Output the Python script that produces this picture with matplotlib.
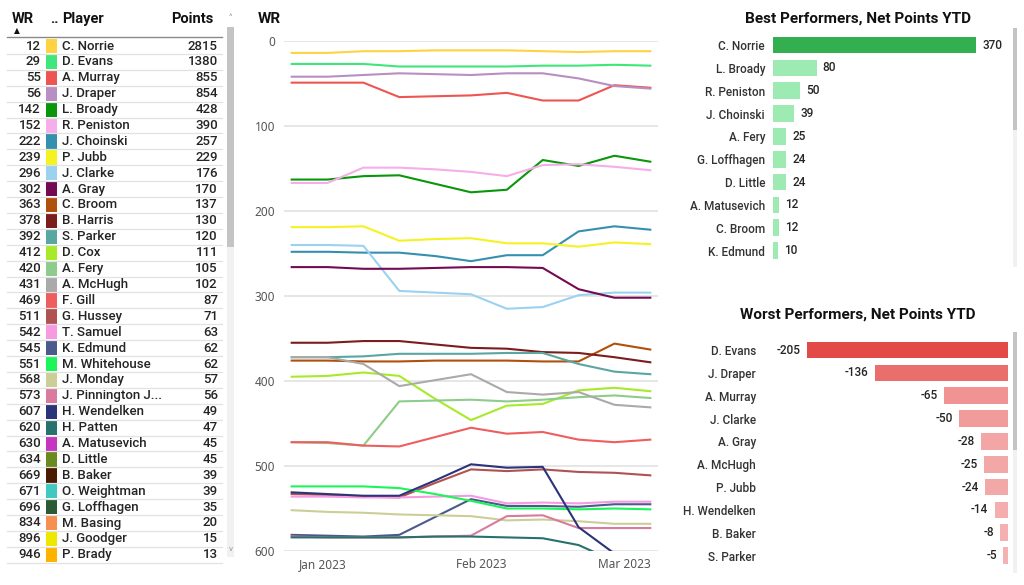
"""Tennis rankings dashboard: player table, weekly WR lines and net-points bars."""
import matplotlib

matplotlib.use("Agg")
import matplotlib.pyplot as plt  # noqa: E402
import numpy as np  # noqa: E402
import pandas as pd  # noqa: E402
from matplotlib import font_manager  # noqa: E402
from matplotlib.colors import LinearSegmentedColormap, Normalize  # noqa: E402
from matplotlib.patches import Rectangle  # noqa: E402

_names = {f.name for f in font_manager.fontManager.ttflist}
NARROW = "Liberation Sans Narrow" if "Liberation Sans Narrow" in _names else "Roboto"
plt.rcParams["font.family"] = [NARROW, "DejaVu Sans"]
MED = 500  # DIN-ish medium weight used by the report

# ---- table data -----------------------------------------------------------
table_wr = [12, 29, 55, 56, 142, 152, 222, 239, 296, 302, 363, 378, 392, 412,
            420, 431, 469, 511, 542, 545, 551, 568, 573, 607, 620, 630, 634,
            669, 671, 696, 834, 896, 946]
table_players = ["C. Norrie", "D. Evans", "A. Murray", "J. Draper", "L. Broady",
                 "R. Peniston", "J. Choinski", "P. Jubb", "J. Clarke", "A. Gray",
                 "C. Broom", "B. Harris", "S. Parker", "D. Cox", "A. Fery",
                 "A. McHugh", "F. Gill", "G. Hussey", "T. Samuel", "K. Edmund",
                 "M. Whitehouse", "J. Monday", "J. Pinnington J...", "H. Wendelken",
                 "H. Patten", "A. Matusevich", "D. Little", "B. Baker",
                 "O. Weightman", "G. Loffhagen", "M. Basing", "J. Goodger",
                 "P. Brady"]
table_points = [2815, 1380, 855, 854, 428, 390, 257, 229, 176, 170, 137, 130,
                120, 111, 105, 102, 87, 71, 63, 62, 62, 57, 56, 49, 47, 45, 45,
                39, 39, 35, 20, 15, 13]
player_colors = ["#FFD23F", "#3FE67C", "#EE5552", "#B78FC2", "#0A960A",
                 "#F6AEEA", "#3590AE", "#F5F222", "#9AD2F0", "#740A52",
                 "#B0500B", "#7C1C1C", "#5AA6A0", "#A8EA2A", "#8DCC8A",
                 "#AAAAAA", "#EF5E5E", "#B05252", "#F89AE2", "#4A5A8C",
                 "#1CF55A", "#CCCE98", "#D97A9E", "#2B3478", "#27716E",
                 "#C634C0", "#6A8A20", "#4A1A02", "#40C9C0", "#2C5A33",
                 "#F59050", "#ECE800", "#FFB300"]

# ---- weekly world ranking (Dec 26 2022 .. Mar 6 2023) ---------------------
weeks = ["2022-12-26", "2023-01-02", "2023-01-09", "2023-01-16", "2023-01-23",
         "2023-01-30", "2023-02-06", "2023-02-13", "2023-02-20", "2023-02-27",
         "2023-03-06"]
norrie = [14, 14, 12, 12, 11, 11, 11, 12, 13, 12, 12]
evans = [27, 27, 27, 30, 30, 30, 30, 29, 29, 28, 29]
murray = [49, 49, 49, 66, 65, 64, 61, 70, 70, 52, 55]
draper = [42, 42, 40, 38, 39, 40, 38, 38, 44, 53, 56]
broady = [163, 163, 159, 158, 168, 178, 175, 140, 147, 135, 142]
peniston = [167, 167, 149, 149, 151, 154, 159, 146, 145, 148, 152]
choinski = [248, 248, 249, 249, 253, 259, 252, 252, 224, 218, 222]
jubb = [219, 219, 218, 235, 233, 232, 238, 238, 242, 237, 239]
clarke = [240, 240, 241, 294, 296, 298, 315, 313, 299, 296, 296]
gray = [266, 266, 268, 268, 267, 266, 266, 267, 292, 302, 302]
broom = [376, 376, 377, 377, 376, 376, 376, 377, 377, 356, 363]
harris = [355, 355, 353, 353, 357, 361, 362, 366, 367, 372, 378]
parker = [372, 372, 371, 368, 368, 368, 367, 367, 380, 389, 392]
cox = [395, 394, 390, 394, 421, 446, 429, 427, 411, 408, 412]
fery = [472, 473, 476, 424, 423, 422, 424, 422, 419, 417, 420]
mchugh = [372, 372, 380, 406, 399, 392, 413, 416, 413, 428, 431]
gill = [472, 472, 476, 477, 466, 455, 462, 460, 469, 472, 469]
hussey = [533, 534, 536, 537, 520, 504, 506, 504, 507, 508, 511]
samuel = [536, 536, 537, 537, 536, 535, 544, 543, 544, 542, 542]
edmund = [581, 582, 583, 581, 560, 539, 547, 547, 548, 545, 545]
whitehouse = [524, 524, 524, 526, 533, 541, 550, 550, 551, 550, 551]
monday = [552, 554, 555, 557, 558, 559, 564, 563, 565, 568, 568]
pinnington = [583, 584, 584, 584, 583, 582, 559, 558, 573, 573, 573]
wendelken = [531, 533, 535, 535, 517, 498, 502, 501, 572, 603, 607]
patten = [584, 584, 584, 584, 583, 583, 584, 585, 593, 612, 620]
# players ranked below 600 all season never show inside the axis, so omitted
line_series = [norrie, evans, murray, draper, broady, peniston, choinski, jubb,
               clarke, gray, broom, harris, parker, cox, fery, mchugh, gill,
               hussey, samuel, edmund, whitehouse, monday, pinnington,
               wendelken, patten]

# ---- net points YTD -------------------------------------------------------
best_players = ["C. Norrie", "L. Broady", "R. Peniston", "J. Choinski", "A. Fery",
                "G. Loffhagen", "D. Little", "A. Matusevich", "C. Broom", "K. Edmund"]
best_net = [370, 80, 50, 39, 25, 24, 24, 12, 12, 10]
worst_players = ["D. Evans", "J. Draper", "A. Murray", "J. Clarke", "A. Gray",
                 "A. McHugh", "P. Jubb", "H. Wendelken", "B. Baker", "S. Parker"]
worst_net = [-205, -136, -65, -50, -28, -25, -24, -14, -8, -5]

W, H = 1024, 585
TXT = "#252423"
fig = plt.figure(figsize=(W / 100, H / 100), dpi=100)

# background axes in pixel coordinates for the table and scrollbars
bg = fig.add_axes([0, 0, 1, 1])
bg.set_xlim(0, W)
bg.set_ylim(H, 0)
bg.axis("off")


def fig_box(x0, y0, x1, y1):
    return [x0 / W, 1 - y1 / H, (x1 - x0) / W, (y1 - y0) / H]


def scrollbar(x0, x1, y0, y1, thumb_end):
    bg.add_patch(Rectangle((x0, y0), x1 - x0, y1 - y0, color="#F1F1F1", lw=0))
    bg.add_patch(Rectangle((x0, y0), x1 - x0, thumb_end - y0, color="#C4C4C4", lw=0))


# ---- table ----------------------------------------------------------------
bg.text(12, 19, "WR", fontsize=10.5, fontweight="bold", va="center", color="#111")
bg.text(17, 31, "▲", fontsize=5.5, va="center", ha="center", color="#111",
        family="DejaVu Sans")
bg.text(50, 19, "..", fontsize=10.5, fontweight="bold", va="center", color="#111")
bg.text(62, 19, "Player", fontsize=10.5, fontweight="bold", va="center", color="#111")
bg.text(213, 19, "Points", fontsize=10.5, fontweight="bold", va="center",
        ha="right", color="#111")
bg.plot([7, 222], [37, 37], color="#8A8A8A", lw=1)
row_h = 15.9
for i, (wr, name, pts, col) in enumerate(zip(table_wr, table_players,
                                             table_points, player_colors)):
    yc = 46 + i * row_h
    bg.text(41, yc, str(wr), ha="right", va="center", fontsize=9.5,
            fontweight=MED, color=TXT)
    bg.add_patch(Rectangle((45.7, yc - 7.2), 11.6, 14.4, color=col, lw=0))
    bg.text(61.5, yc, name, ha="left", va="center", fontsize=9.5,
            fontweight=MED, color=TXT)
    bg.text(218, yc, str(pts), ha="right", va="center", fontsize=9.5,
            fontweight=MED, color=TXT)
    bg.plot([7, 222], [yc + row_h / 2, yc + row_h / 2], color="#E2E2E2", lw=0.9)
scrollbar(227, 234, 27, 557, 247)
bg.text(230.5, 17, "^", fontsize=6, ha="center", va="center", color="#999")
bg.text(230.5, 549, "v", fontsize=6, ha="center", va="center", color="#999")

# ---- WR line chart --------------------------------------------------------
dates = pd.to_datetime(weeks)
ax = fig.add_axes(fig_box(284, 41, 658, 551))
for series, col in zip(line_series, player_colors):
    ax.plot(dates, series, color=col, lw=1.5, solid_joinstyle="round")
ax.set_ylim(600, 0)
ax.set_xlim(dates[0] - pd.Timedelta(days=1.5), dates[-1] + pd.Timedelta(days=1.5))
ax.set_yticks(range(0, 601, 100))
month_ticks = pd.to_datetime(["2023-01-01", "2023-02-01", "2023-03-01"])
ax.set_xticks(month_ticks, ["Jan 2023", "Feb 2023", "Mar 2023"])
ax.grid(axis="y", color="#E4E4E4", lw=1.3)
ax.set_axisbelow(True)
for s in ax.spines.values():
    s.set_visible(False)
ax.tick_params(length=0, labelsize=8.5, labelcolor="#555555", pad=6.5)
ax.tick_params(axis="x", pad=5)
for lab in ax.get_xticklabels() + ax.get_yticklabels():
    lab.set_family("Noto Sans")
fig.text(258 / W, 1 - 19 / H, "WR", fontsize=11, fontweight="bold",
         va="center", color="#111")


def bar_axes(ax, players, pad):
    ax.set_yticks(np.arange(len(players)), players)
    ax.set_ylim(len(players) - 0.5, -0.5)
    ax.set_xticks([])
    for s in ax.spines.values():
        s.set_visible(False)
    ax.tick_params(length=0, labelsize=8.5, labelcolor="#333333", pad=pad)
    for lab in ax.get_yticklabels():
        lab.set_fontweight(MED)


# ---- best performers ------------------------------------------------------
axb = fig.add_axes(fig_box(772.7, 33.6, 1000, 262.1))
best_cols = ["#34AF50" if v == max(best_net) else "#9DEBB3" for v in best_net]
bars = axb.barh(np.arange(len(best_net)), best_net, height=0.73, color=best_cols)
axb.bar_label(bars, padding=4.5, fontsize=8.5, fontweight=MED, color=TXT)
axb.set_xlim(0, 414)
bar_axes(axb, best_players, 5.5)
fig.text(858 / W, 1 - 19 / H, "Best Performers, Net Points YTD", ha="center",
         va="center", fontsize=11, fontweight="bold", color="#111")
scrollbar(1012.5, 1017, 28, 267, 130)

# ---- worst performers -----------------------------------------------------
axw = fig.add_axes(fig_box(790, 338.6, 1008.3, 567.1))
reds = LinearSegmentedColormap.from_list("reds", ["#F5B2B2", "#E34A47"])
norm = Normalize(min(abs(v) for v in worst_net), max(abs(v) for v in worst_net))
worst_cols = [reds(norm(abs(v))) for v in worst_net]
bars = axw.barh(np.arange(len(worst_net)), worst_net, height=0.73, color=worst_cols)
axw.bar_label(bars, padding=4.5, fontsize=8.5, fontweight=MED, color=TXT)
axw.set_xlim(-222.3, 0)
bar_axes(axw, worst_players, 24.5)
fig.text(858 / W, 1 - 315 / H, "Worst Performers, Net Points YTD", ha="center",
         va="center", fontsize=11, fontweight="bold", color="#111")
scrollbar(1012.5, 1017, 332, 573, 450)

fig.savefig("out.png", dpi=100)
